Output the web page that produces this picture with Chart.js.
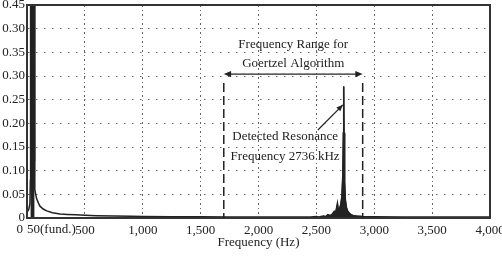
<!DOCTYPE html>
<html>
<head>
<meta charset="utf-8">
<script src="https://cdn.jsdelivr.net/npm/chart.js@4.4.1/dist/chart.umd.min.js"></script>
<style>
  html, body { margin: 0; padding: 0; background: #fff; }
  #wrap { width: 502px; height: 258px; }
</style>
</head>
<body>
<div id="wrap"><canvas id="spectrum"></canvas></div>
<script>
// spectrum (Hz, magnitude)
var freqHz = [0, 15, 25, 29, 31, 40, 50, 60, 64, 66, 69, 75, 84, 100, 112, 140, 170, 220, 285, 350, 420, 500,
  600, 750, 900, 1000, 1250, 1500, 1750, 2000, 2250, 2450, 2500, 2520, 2560, 2580, 2600, 2620, 2640, 2655,
  2665, 2675, 2682, 2690, 2700, 2710, 2720, 2728, 2733, 2736, 2739, 2744, 2750, 2760, 2770, 2785, 2800,
  2820, 2850, 2900, 3000, 3250, 3500, 3750, 4000];
var magnitude = [0.012, 0.018, 0.03, 0.08, 0.6, 1.5, 2.0, 1.5, 0.6, 0.12, 0.06, 0.05, 0.04, 0.031, 0.025, 0.019, 0.015, 0.011, 0.0085, 0.0075, 0.0068, 0.006,
  0.005, 0.004, 0.0035, 0.003, 0.0028, 0.0025, 0.0022, 0.002, 0.002, 0.002, 0.003, 0.002, 0.004, 0.003, 0.007, 0.005, 0.009, 0.014,
  0.010, 0.022, 0.031, 0.016, 0.020, 0.028, 0.045, 0.09, 0.18, 0.278, 0.18, 0.08, 0.04, 0.022, 0.015, 0.010, 0.007,
  0.005, 0.004, 0.003, 0.0025, 0.002, 0.002, 0.002, 0.002];

// parts of the spectrum that look solid black
var spikeRange = [29, 66];
var resonanceRange = [2550, 2900];

var xTickValues = [0, 50, 500, 1000, 1500, 2000, 2500, 3000, 3500, 4000];
var xTickLabels = ['0', '50(fund.)', '500', '1,000', '1,500', '2,000', '2,500', '3,000', '3,500', '4,000'];
var yTickValues = [0, 0.05, 0.1, 0.15, 0.2, 0.25, 0.3, 0.35, 0.4, 0.45];
var yTickLabels = ['0', '0.05', '0.10', '0.15', '0.20', '0.25', '0.30', '0.35', '0.30', '0.45'];

var goertzelRange = [1700, 2900];
var resonanceHz = 2736;

var ink = '#222';
var serif = 'Liberation Serif';

function pointsIn(range) {
  var pts = [];
  for (var i = 0; i < freqHz.length; i++) {
    if (freqHz[i] >= range[0] && freqHz[i] <= range[1]) pts.push({x: freqHz[i], y: magnitude[i]});
  }
  return pts;
}

var allPoints = freqHz.map(function (f, i) { return {x: f, y: magnitude[i]}; });

function filled(range) {
  return {
    data: pointsIn(range),
    borderColor: ink,
    borderWidth: 1,
    backgroundColor: ink,
    fill: 'origin',
    pointRadius: 0,
    tension: 0
  };
}

function arrowHead(ctx, x1, y1, x2, y2, size) {
  var a = Math.atan2(y2 - y1, x2 - x1);
  ctx.beginPath();
  ctx.moveTo(x2, y2);
  ctx.lineTo(x2 - size * Math.cos(a - 0.4), y2 - size * Math.sin(a - 0.4));
  ctx.lineTo(x2 - size * Math.cos(a + 0.4), y2 - size * Math.sin(a + 0.4));
  ctx.closePath();
  ctx.fill();
}

var annotations = {
  id: 'annotations',
  afterDraw: function (chart) {
    var ctx = chart.ctx;
    var xs = chart.scales.x, ys = chart.scales.y;
    var area = chart.chartArea;
    ctx.save();

    // frame round the plot
    ctx.strokeStyle = '#333';
    ctx.lineWidth = 2;
    ctx.strokeRect(area.left, area.top, area.right - area.left, area.bottom - area.top);

    // first two x labels sit side by side
    ctx.fillStyle = ink;
    ctx.font = '13px ' + serif;
    ctx.textBaseline = 'top';
    var x0 = xs.getPixelForValue(0);
    ctx.textAlign = 'right';
    ctx.fillText(xTickLabels[0], x0 - 4, area.bottom + 5);
    ctx.textAlign = 'left';
    ctx.fillText(xTickLabels[1], x0, area.bottom + 5);

    // dashed limits of the Goertzel range
    var xa = xs.getPixelForValue(goertzelRange[0]);
    var xb = xs.getPixelForValue(goertzelRange[1]);
    ctx.strokeStyle = ink;
    ctx.lineWidth = 1.5;
    ctx.setLineDash([9, 4]);
    ctx.beginPath();
    ctx.moveTo(xa, ys.getPixelForValue(0.285)); ctx.lineTo(xa, area.bottom);
    ctx.moveTo(xb, ys.getPixelForValue(0.285)); ctx.lineTo(xb, area.bottom);
    ctx.stroke();
    ctx.setLineDash([]);

    // double arrow
    var ya = ys.getPixelForValue(0.304);
    ctx.lineWidth = 1.2;
    ctx.beginPath();
    ctx.moveTo(xa + 4, ya); ctx.lineTo(xb - 4, ya);
    ctx.stroke();
    arrowHead(ctx, xb - 10, ya, xb, ya, 8);
    arrowHead(ctx, xa + 10, ya, xa, ya, 8);

    ctx.textAlign = 'center';
    ctx.textBaseline = 'middle';
    var xm = xs.getPixelForValue((goertzelRange[0] + goertzelRange[1]) / 2);
    ctx.fillText('Frequency Range for', xm, ys.getPixelForValue(0.366));
    ctx.fillText('Goertzel Algorithm', xm, ys.getPixelForValue(0.326));

    // resonance label and pointer
    var xl = xs.getPixelForValue(2230);
    ctx.fillText('Detected Resonance', xl, ys.getPixelForValue(0.171));
    ctx.fillText('Frequency ' + resonanceHz + ' kHz', xl, ys.getPixelForValue(0.129));
    var p1x = xs.getPixelForValue(2513), p1y = ys.getPixelForValue(0.186);
    var p2x = xs.getPixelForValue(2729), p2y = ys.getPixelForValue(0.239);
    ctx.beginPath();
    ctx.moveTo(p1x, p1y); ctx.lineTo(p2x, p2y);
    ctx.stroke();
    arrowHead(ctx, p1x, p1y, p2x, p2y, 7);

    ctx.restore();
  }
};

new Chart(document.getElementById('spectrum'), {
  type: 'line',
  data: {
    datasets: [
      {
        data: allPoints,
        borderColor: ink,
        borderWidth: 1.5,
        pointRadius: 0,
        fill: false,
        tension: 0
      },
      filled(spikeRange),
      filled(resonanceRange)
    ]
  },
  plugins: [annotations],
  options: {
    responsive: true,
    maintainAspectRatio: false,
    animation: false,
    layout: { padding: { left: 0, right: 0, top: 5, bottom: 0 } },
    plugins: { legend: { display: false }, tooltip: { enabled: false } },
    scales: {
      x: {
        type: 'linear',
        min: 0,
        max: 4000,
        afterBuildTicks: function (scale) {
          scale.ticks = xTickValues.map(function (v) { return {value: v}; });
        },
        afterFit: function (scale) {
          scale.height = 40;
          scale.paddingLeft = 0;
          scale.paddingRight = 12;
        },
        grid: { color: '#666', lineWidth: 1, drawTicks: false },
        border: { color: '#333', width: 2, dash: [2, 3, 1, 3] },
        ticks: {
          autoSkip: false,
          maxRotation: 0,
          padding: 5,
          color: ink,
          font: { family: serif, size: 13 },
          callback: function (v, i) { return i < 2 ? '' : xTickLabels[i]; }
        },
        title: {
          display: true,
          text: 'Frequency (Hz)',
          color: ink,
          font: { family: serif, size: 13 },
          padding: { top: 0, bottom: 8 }
        }
      },
      y: {
        min: 0,
        max: 0.45,
        afterBuildTicks: function (scale) {
          scale.ticks = yTickValues.map(function (v) { return {value: v}; });
        },
        afterFit: function (scale) {
          scale.width = 27;
          scale.paddingTop = 0;
          scale.paddingBottom = 0;
        },
        grid: { color: '#666', lineWidth: 1, drawTicks: false },
        border: { color: '#333', width: 2, dash: [1.5, 6.5] },
        ticks: {
          padding: 2,
          color: ink,
          font: { family: serif, size: 13 },
          callback: function (v, i) { return yTickLabels[i]; }
        }
      }
    }
  }
});
</script>
</body>
</html>
